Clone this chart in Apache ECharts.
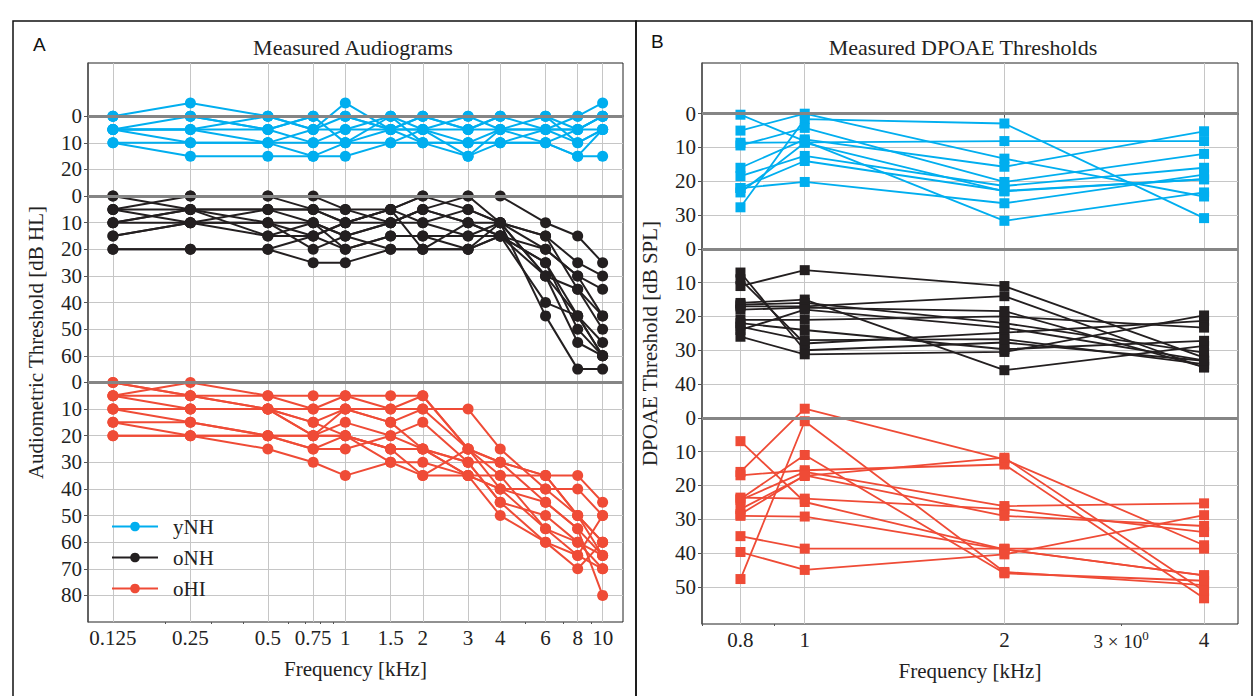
<!DOCTYPE html>
<html><head><meta charset="utf-8">
<script src="https://cdn.jsdelivr.net/npm/echarts@6/dist/echarts.min.js"></script>
<style>html,body{margin:0;padding:0;background:#fff}#c{width:1255px;height:696px}</style>
</head><body><div id="c"></div>
<script>
// ---------------- Panel A: audiograms ----------------
const freqsA = [0.125, 0.25, 0.5, 0.75, 1, 1.5, 2, 3, 4, 6, 8, 10];
const freqLabelsA = ['0.125', '0.25', '0.5', '0.75', '1', '1.5', '2', '3', '4', '6', '8', '10'];
const minorTicksA = [0.2, 0.3, 0.4, 0.6, 0.7, 0.8, 0.9, 5, 7, 9];
const yTicksA_yNH = [0, 10, 20];
const yTicksA_oNH = [0, 10, 20, 30, 40, 50, 60];
const yTicksA_oHI = [0, 10, 20, 30, 40, 50, 60, 70, 80];

const audio_yNH = [
  [0, -5, 0, 0, 0, 0, 0, 0, 0, 0, 0, -5],
  [5, 0, 0, 5, -5, 5, 5, 5, 0, 5, 0, 0],
  [5, 5, 5, 0, 0, 5, 0, 5, 5, 0, 5, 0],
  [10, 15, 15, 15, 15, 10, 10, 10, 10, 10, 15, 15],
  [5, 10, 10, 10, 10, 10, 5, 15, 5, 5, 10, 5],
  [0, 0, 5, 10, 5, 0, 5, 0, 5, 5, 5, 0],
  [10, 10, 10, 5, 5, 5, 10, 10, 10, 10, 15, 5],
  [5, 5, 0, 5, 0, 5, 0, 5, 0, 0, 10, 5],
  [0, 0, 5, 0, 10, 5, 5, 10, 5, 10, 5, 0],
  [5, 5, 10, 15, 10, 0, 10, 15, 10, 5, 5, 5]
];
const audio_oNH = [
  [0, 0, 0, 0, 5, 5, 0, 0, 0, 10, 15, 25],
  [5, 0, 0, 5, 10, 10, 5, 0, 10, 15, 25, 30],
  [10, 5, 5, 5, 10, 5, 0, 5, 10, 20, 30, 35],
  [15, 10, 10, 10, 15, 10, 5, 10, 10, 15, 35, 45],
  [20, 20, 20, 25, 25, 20, 20, 20, 15, 25, 45, 55],
  [5, 5, 5, 10, 15, 10, 10, 15, 15, 25, 50, 60],
  [10, 10, 15, 15, 20, 15, 15, 20, 15, 30, 55, 60],
  [0, 5, 10, 15, 10, 5, 10, 5, 10, 30, 35, 50],
  [5, 10, 10, 20, 15, 20, 20, 10, 15, 40, 45, 60],
  [10, 5, 15, 10, 20, 15, 15, 15, 10, 45, 65, 65],
  [15, 10, 5, 5, 5, 10, 5, 10, 15, 20, 30, 45],
  [20, 20, 20, 15, 10, 5, 20, 20, 10, 30, 45, 60]
];
const audio_oHI = [
  [0, 5, 5, 5, 5, 5, 5, 25, 30, 35, 35, 45],
  [5, 0, 5, 10, 5, 10, 10, 10, 25, 40, 40, 50],
  [5, 5, 10, 10, 10, 10, 5, 25, 35, 35, 50, 60],
  [10, 10, 10, 15, 10, 15, 10, 25, 40, 45, 55, 65],
  [10, 10, 10, 20, 15, 20, 15, 30, 45, 50, 60, 65],
  [15, 15, 20, 20, 20, 25, 25, 35, 40, 55, 60, 70],
  [20, 20, 25, 30, 35, 30, 30, 35, 50, 60, 70, 60],
  [20, 20, 20, 25, 25, 20, 25, 30, 30, 45, 55, 80],
  [0, 5, 10, 20, 20, 25, 35, 35, 35, 55, 65, 50],
  [5, 10, 10, 15, 20, 25, 25, 30, 45, 60, 65, 70],
  [10, 15, 20, 25, 20, 30, 35, 25, 30, 35, 50, 60],
  [15, 20, 20, 20, 10, 15, 25, 35, 40, 40, 50, 65]
];

// ---------------- Panel B: DPOAE thresholds ----------------
const freqsB = [0.8, 1, 2, 4];
const freqLabelsB = ['0.8', '1', '2', '4'];
const extraLabelB = 3;          // matplotlib minor label "3 x 10^0"
const minorTicksB = [0.7, 0.9, 3];
const yTicksB_yNH = [0, 10, 20, 30];
const yTicksB_oNH = [0, 10, 20, 30, 40];
const yTicksB_oHI = [0, 10, 20, 30, 40, 50];

const dp_yNH = [
  [27.7, 1.6, 2.9, 30.9],
  [0.3, 8.1, 31.7, 23.3],
  [5, 0, 13.3, 24.5],
  [8.6, 8.5, 8.1, 8.1],
  [16, 7.6, 15.7, 5.2],
  [18.5, 12.5, 21.4, 16],
  [22, 14, 22.8, 19.4],
  [22, 20.2, 26.5, 18],
  [9.4, 4.2, 20.2, 11.9],
  [23.3, 8.6, 23, 19.4]
];
const dp_oNH = [
  [11, 6.3, 11, 32.2],
  [7, 30, 27.7, 33.1],
  [9, 28, 24.8, 21.3],
  [16, 15, 35.9, 28.7],
  [17, 17, 14, 35.1],
  [16.5, 16, 22, 30.7],
  [26, 31.2, 30.5, 19.7],
  [23, 27, 26.7, 34.1],
  [21, 21, 20, 23.3],
  [22, 24, 29.7, 27.2],
  [18, 17.4, 18.4, 35],
  [24, 18, 23.3, 33]
];
const dp_oHI = [
  [16, -2.7, 12.3, 37.7],
  [47.7, 1, 45.6, 49.5],
  [6.9, 24.9, 38.9, 46.6],
  [24, 11, 46, 48.2],
  [17, 15.5, 13.8, 53.4],
  [27, 17.2, 11.8, 51.2],
  [29, 29.2, 38.9, 46.6],
  [35, 38.7, 38.7, 38.7],
  [39.7, 45, 40.4, 28.8],
  [24.3, 16, 26.1, 25.3],
  [23.6, 23.9, 27, 33.8],
  [28.5, 17, 29, 32]
];

const groupNames = ['yNH', 'oNH', 'oHI'];

// ---------------- layout / style ----------------
const offsetsA = [0, 30, 100];
const offsetsB = [0, 40, 90];
const colors = ['#00aeef', '#231f20', '#ef4b36'];
const SERIF = '"Liberation Serif", "DejaVu Serif", serif';
const SANS = '"Liberation Sans", Arial, sans-serif';
const TXT = '#222';
const FS = 21;

function buildTicks(lists, offsets) {
  const pos = [], lab = {};
  lists.forEach((l, g) => l.forEach(v => { const p = v + offsets[g]; pos.push(p); lab[p] = String(v); }));
  return { pos, lab };
}
const tA = buildTicks([yTicksA_yNH, yTicksA_oNH, yTicksA_oHI], offsetsA);
const tB = buildTicks([yTicksB_yNH, yTicksB_oNH, yTicksB_oHI], offsetsB);

const series = [];
function addGroups(groups, freqs, offsets, xi, yi, symbol, size, lw) {
  groups.forEach((grp, g) => {
    grp.forEach(row => {
      series.push({
        type: 'line', name: groupNames[g], xAxisIndex: xi, yAxisIndex: yi,
        data: row.map((v, i) => [freqs[i], v + offsets[g]]),
        symbol: symbol, symbolSize: size, showSymbol: true,
        lineStyle: { color: colors[g], width: lw },
        itemStyle: { color: colors[g], borderWidth: 0 },
        emphasis: { disabled: true }, silent: true, animation: false, z: 3
      });
    });
  });
  // zero lines for each group
  series.push({
    type: 'line', xAxisIndex: xi, yAxisIndex: yi, data: [], silent: true, z: 1,
    markLine: {
      silent: true, symbol: 'none', animation: false, label: { show: false },
      lineStyle: { color: '#858585', width: 2.8, type: 'solid' },
      data: offsets.map(o => ({ yAxis: o }))
    }
  });
}
addGroups([audio_yNH, audio_oNH, audio_oHI], freqsA, offsetsA, 0, 0, 'circle', 11, 2);
addGroups([dp_yNH, dp_oNH, dp_oHI], freqsB, offsetsB, 2, 1, 'rect', 10, 1.8);

const gridLine = { show: true, lineStyle: { color: '#c6c6c6', width: 1 } };
const labelStyle = { fontFamily: SERIF, fontSize: FS, color: TXT };
const nameStyle = { fontFamily: SERIF, fontSize: FS, color: TXT };

const option = {
  animation: false,
  backgroundColor: '#fff',
  grid: [
    { left: 88, top: 63, width: 535, height: 559, show: true, borderColor: '#222', borderWidth: 1, containLabel: false },
    { left: 702, top: 63, width: 536, height: 561, show: true, borderColor: '#222', borderWidth: 1, containLabel: false }
  ],
  xAxis: [
    { gridIndex: 0, type: 'log', logBase: 10, min: 0.1, max: 12,
      axisLine: { show: true, lineStyle: { color: '#555', width: 1.5 } },
      axisTick: { show: true, customValues: freqsA, length: 4, lineStyle: { color: '#555' } },
      axisLabel: { customValues: freqsA, formatter: v => freqLabelsA[freqsA.indexOf(v)] ?? String(v), ...labelStyle, margin: 5 },
      splitLine: gridLine,
      name: 'Frequency [kHz]', nameLocation: 'middle', nameGap: 36, nameTextStyle: nameStyle },
    { gridIndex: 0, type: 'log', logBase: 10, min: 0.1, max: 12, position: 'bottom',
      axisLine: { show: false },
      axisTick: { show: true, customValues: minorTicksA, length: 2, lineStyle: { color: '#555' } },
      axisLabel: { show: false }, splitLine: { show: false } },
    { gridIndex: 1, type: 'log', logBase: 10, min: 0.7, max: 4.5,
      axisLine: { show: true, lineStyle: { color: '#555', width: 1.5 } },
      axisTick: { show: true, customValues: freqsB, length: 4, lineStyle: { color: '#555' } },
      axisLabel: { customValues: freqsB.concat([extraLabelB]),
        formatter: v => v === extraLabelB ? '{m|3 × 10}{s|0}' : (freqLabelsB[freqsB.indexOf(v)] ?? String(v)),
        ...labelStyle, margin: 5,
        rich: { m: { fontFamily: SERIF, fontSize: 19, color: TXT, padding: [0, 0, 8, 0] },
                s: { fontFamily: SERIF, fontSize: 13, color: TXT, padding: [0, 0, 20, 0] } } },
      splitLine: gridLine,
      name: 'Frequency [kHz]', nameLocation: 'middle', nameGap: 36, nameTextStyle: nameStyle },
    { gridIndex: 1, type: 'log', logBase: 10, min: 0.7, max: 4.5, position: 'bottom',
      axisLine: { show: false },
      axisTick: { show: true, customValues: minorTicksB, length: 2, lineStyle: { color: '#555' } },
      axisLabel: { show: false }, splitLine: { show: false } }
  ],
  yAxis: [
    { gridIndex: 0, type: 'value', inverse: true, min: -20, max: 190, interval: 10,
      axisLine: { show: true, lineStyle: { color: '#555', width: 1.5 } },
      axisTick: { show: true, customValues: tA.pos, length: 4, lineStyle: { color: '#555' } },
      axisLabel: { customValues: tA.pos, formatter: v => tA.lab[v] ?? '', ...labelStyle, margin: 6 },
      splitLine: gridLine,
      name: 'Audiometric Threshold [dB HL]', nameLocation: 'middle', nameGap: 42, nameTextStyle: nameStyle },
    { gridIndex: 1, type: 'value', inverse: true, min: -15, max: 151,
      axisLine: { show: true, lineStyle: { color: '#555', width: 1.5 } },
      axisTick: { show: true, customValues: tB.pos, length: 4, lineStyle: { color: '#555' } },
      axisLabel: { customValues: tB.pos, formatter: v => tB.lab[v] ?? '', ...labelStyle, margin: 6 },
      splitLine: gridLine,
      name: 'DPOAE Threshold [dB SPL]', nameLocation: 'middle', nameGap: 42, nameTextStyle: nameStyle }
  ],
  legend: {
    data: groupNames, left: 106, top: 511, orient: 'vertical',
    itemWidth: 46, itemHeight: 12, itemGap: 10,
    textStyle: { fontFamily: SERIF, fontSize: FS, color: TXT, padding: [0, 0, 0, 10] },
    selectedMode: false
  },
  graphic: [
    { type: 'rect', shape: { x: 13, y: 21, width: 623, height: 680 }, style: { fill: 'none', stroke: '#111', lineWidth: 1.5 }, silent: true },
    { type: 'rect', shape: { x: 636, y: 21, width: 616, height: 680 }, style: { fill: 'none', stroke: '#111', lineWidth: 1.5 }, silent: true },
    { type: 'text', left: 33, top: 35, style: { text: 'A', font: '19px ' + SANS, fill: '#111' } },
    { type: 'text', left: 651, top: 32, style: { text: 'B', font: '19px ' + SANS, fill: '#111' } },
    { type: 'text', x: 353, y: 47, style: { text: 'Measured Audiograms', font: '22px ' + SERIF, fill: TXT, textAlign: 'center', textVerticalAlign: 'middle' } },
    { type: 'text', x: 963, y: 47, style: { text: 'Measured DPOAE Thresholds', font: '22px ' + SERIF, fill: TXT, textAlign: 'center', textVerticalAlign: 'middle' } }
  ],
  series: series
};

const chart = echarts.init(document.getElementById('c'), null, { renderer: 'svg' });
chart.setOption(option);
</script>
</body></html>
